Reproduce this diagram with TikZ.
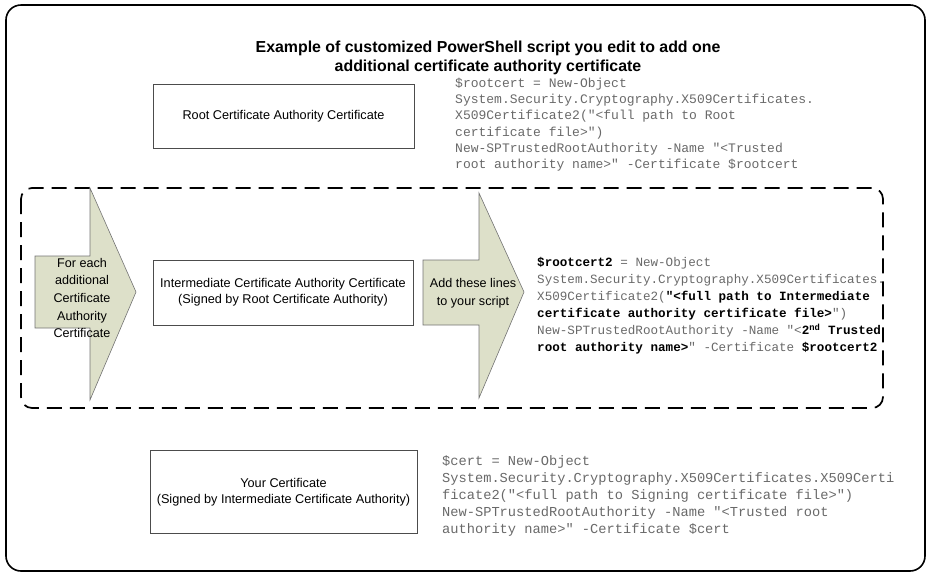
\documentclass[tikz,border=0pt]{standalone}
\usepackage{fontspec}
\setmainfont{Liberation Sans}
\setmonofont{Liberation Mono}
\definecolor{arrowfill}{RGB}{221,224,201}
\definecolor{codegray}{RGB}{105,105,105}
\newcommand{\cb}[1]{\textcolor{black}{\textbf{#1}}}
\begin{document}
\begin{tikzpicture}[x=1pt,y=-1pt,
    certbox/.style={draw=black!70,line width=0.8pt,align=center,
      font=\fontsize{12.7}{16}\selectfont},
    bigarrow/.style={fill=arrowfill,draw=black!55,line width=0.6pt},
    arrowtext/.style={align=center,inner sep=0,font=\fontsize{12.6}{17.6}\selectfont},
    code/.style={anchor=north west,inner sep=0,align=left,text=codegray,
      font=\fontsize{#1}{17}\selectfont\ttfamily}]
  \useasboundingbox (0,0) rectangle (928,574);
  \draw[bigarrow] (35,256) -- (90,256) -- (90,188) -- (136,292) -- (90,400) -- (90,328) -- (35,328) -- cycle;
  \draw[bigarrow] (423,260) -- (479,260) -- (479,193) -- (524,292) -- (479,398) -- (479,325) -- (423,325) -- cycle;
  \node[arrowtext] (each) at (82,298) {For each\\additional\\Certificate\\Authority\\Certificate};
  \node[arrowtext] (add) at (473,293) {Add these lines\\to your script};
  \node[font=\fontsize{15.9}{19}\selectfont\bfseries,align=center] (title) at (488,57.5)
    {Example of customized PowerShell script you edit to add one\\additional certificate authority certificate};
  \node[certbox,minimum width=261,minimum height=64] (root) at (283.5,116) {Root Certificate Authority Certificate};
  \node[certbox,minimum width=260,minimum height=65] (inter) at (283,292.5)
    {Intermediate Certificate Authority Certificate\\(Signed by Root Certificate Authority)};
  \node[certbox,minimum width=267,minimum height=83] (yours) at (283.5,492)
    {Your Certificate\\(Signed by Intermediate Certificate Authority)};
  \node[code=13,font=\fontsize{13}{16.3}\selectfont\ttfamily] (rootcode) at (455,77.5)
    {\$rootcert = New-Object\\
     System.Security.Cryptography.X509Certificates.\\
     X509Certificate2("<full path to Root\\
     certificate file>")\\
     New-SPTrustedRootAuthority -Name "<Trusted\\
     root authority name>" -Certificate \$rootcert};
  \node[code=12.6] (intercode) at (537,257)
    {\cb{\$rootcert2} = New-Object\\
     System.Security.Cryptography.X509Certificates.\\
     X509Certificate2(\cb{"<full path to Intermediate}\\
     \cb{certificate authority certificate file>}")\\
     New-SPTrustedRootAuthority -Name "<\cb{2\textsuperscript{nd} Trusted}\\
     \cb{root authority name>}" -Certificate \cb{\$rootcert2}};
  \node[code=13.7] (yourcode) at (442,455)
    {\$cert = New-Object\\
     System.Security.Cryptography.X509Certificates.X509Certi\\
     ficate2("<full path to Signing certificate file>")\\
     New-SPTrustedRootAuthority -Name "<Trusted root\\
     authority name>" -Certificate \$cert};
  \draw[line width=1.7pt,dash pattern=on 15pt off 8pt,rounded corners=11] (21,188) rectangle (883,408);
  \draw[line width=1.6pt,rounded corners=15] (6,5) rectangle (925,571);
\end{tikzpicture}
\end{document}
